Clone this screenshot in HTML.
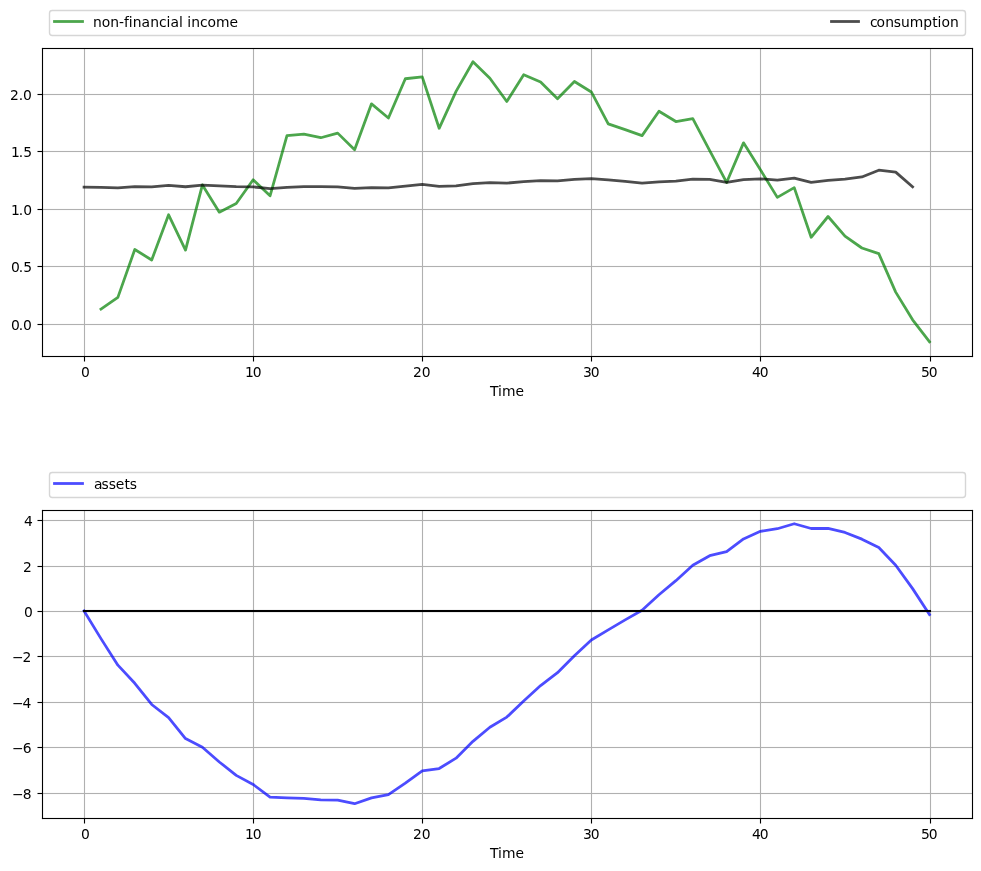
<!DOCTYPE html>
<html lang="en">
<head>
<meta charset="utf-8">
<title>Permanent income: income, consumption and assets</title>
<style>
html,body{margin:0;padding:0;background:#ffffff;}
body{width:981px;height:871px;overflow:hidden;}
svg{display:block;}
text{fill:#000000;}
</style>
</head>
<body>
<svg width="981" height="871" viewBox="0 0 981 871" font-family="'DejaVu Sans','Liberation Sans',sans-serif" font-size="13.889px">
<rect x="0" y="0" width="981" height="871" fill="#ffffff"/>
<defs>
<clipPath id="clip0"><rect x="41.787" y="47.722" width="930" height="308"/></clipPath>
<clipPath id="clip1"><rect x="41.787" y="509.722" width="930" height="308"/></clipPath>
</defs>
<g id="axes1">
<g id="grid1" fill="#b0b0b0">
<rect x="83.945" y="48.5" width="1.111" height="308"/>
<rect x="252.945" y="48.5" width="1.111" height="308"/>
<rect x="421.945" y="48.5" width="1.111" height="308"/>
<rect x="590.944" y="48.5" width="1.111" height="308"/>
<rect x="759.944" y="48.5" width="1.111" height="308"/>
<rect x="929.944" y="48.5" width="1.111" height="308"/>
<rect x="42.5" y="323.945" width="930" height="1.111"/>
<rect x="42.5" y="265.945" width="930" height="1.111"/>
<rect x="42.5" y="208.945" width="930" height="1.111"/>
<rect x="42.5" y="150.945" width="930" height="1.111"/>
<rect x="42.5" y="93.945" width="930" height="1.111"/>
</g>
<g id="lines1" clip-path="url(#clip0)" fill="none" stroke-width="2.778" stroke-linejoin="round">
<polyline id="income" stroke="#008000" stroke-opacity="0.7" stroke-linecap="square" points="100.97,309.18 117.88,297.38 134.79,249.48 151.70,259.98 168.61,214.78 185.51,250.08 202.42,184.93 219.33,212.18 236.24,203.48 253.15,179.78 270.06,195.78 286.97,135.58 303.88,134.13 320.79,137.73 337.70,133.13 354.61,149.78 371.51,103.85 388.42,118.00 405.33,78.75 422.24,76.85 439.15,128.30 456.06,91.35 472.97,61.72 489.88,78.25 506.79,101.50 523.70,74.70 540.61,82.05 557.51,98.70 574.42,81.45 591.33,91.95 608.24,123.90 625.15,129.65 642.06,135.65 658.97,111.30 675.88,121.55 692.79,118.65 709.70,150.55 726.61,182.45 743.51,142.85 760.42,169.75 777.33,197.40 794.24,187.65 811.15,237.30 828.06,216.50 844.97,236.10 861.88,248.00 878.79,253.60 895.70,292.10 912.61,319.80 929.51,341.72"/>
<polyline id="consumption" stroke="#000000" stroke-opacity="0.7" stroke-linecap="square" points="84.06,187.25 100.97,187.44 117.88,187.93 134.79,186.69 151.70,186.90 168.61,185.43 185.51,186.75 202.42,185.15 219.33,185.84 236.24,186.73 253.15,186.92 270.06,188.67 286.97,187.46 303.88,186.70 320.79,186.67 337.70,186.82 354.61,188.44 371.51,187.59 388.42,187.98 405.33,186.17 422.24,184.46 439.15,186.35 456.06,185.97 472.97,183.67 489.88,182.57 506.79,183.11 523.70,181.70 540.61,180.72 557.51,180.84 574.42,179.42 591.33,178.53 608.24,179.92 625.15,181.44 642.06,183.07 658.97,181.93 675.88,181.06 692.79,179.07 709.70,179.47 726.61,182.45 743.51,179.67 760.42,178.78 777.33,180.10 794.24,178.17 811.15,182.36 828.06,180.36 844.97,179.23 861.88,176.94 878.79,170.22 895.70,172.16 912.61,186.89"/>
</g>
<g id="ticks1" fill="#000000">
<rect x="83.945" y="356.5" width="1.111" height="5"/>
<rect x="252.945" y="356.5" width="1.111" height="5"/>
<rect x="421.945" y="356.5" width="1.111" height="5"/>
<rect x="590.944" y="356.5" width="1.111" height="5"/>
<rect x="759.944" y="356.5" width="1.111" height="5"/>
<rect x="929.944" y="356.5" width="1.111" height="5"/>
<rect x="37.5" y="323.945" width="5" height="1.111"/>
<rect x="37.5" y="265.945" width="5" height="1.111"/>
<rect x="37.5" y="208.945" width="5" height="1.111"/>
<rect x="37.5" y="150.945" width="5" height="1.111"/>
<rect x="37.5" y="93.945" width="5" height="1.111"/>
</g>
<g id="spines1" fill="#000000">
<rect x="41.944" y="47.944" width="1.111" height="309.111"/>
<rect x="971.944" y="47.944" width="1.111" height="309.111"/>
<rect x="41.944" y="355.945" width="931.111" height="1.111"/>
<rect x="41.944" y="47.944" width="931.111" height="1.111"/>
</g>
<g id="xlabels1" text-anchor="middle">
<text text-anchor="start" x="81" y="377">0</text>
<text text-anchor="start" x="245 252.75" y="377">10</text>
<text text-anchor="start" x="413 421.75" y="377">20</text>
<text text-anchor="start" x="583 590.75" y="377">30</text>
<text text-anchor="start" x="752 759.75" y="377">40</text>
<text text-anchor="start" x="921 928.75" y="377">50</text>
<text text-anchor="start" x="490 498 502 515.5" y="396">Time</text>
</g>
<g id="ylabels1" text-anchor="end">
<text text-anchor="start" x="11 18.75 23" y="330">0.0</text>
<text text-anchor="start" x="11 18.75 23.25" y="272">0.5</text>
<text text-anchor="start" x="11 18.75 23.25" y="215">1.0</text>
<text text-anchor="start" x="11 18.75 23.25" y="157">1.5</text>
<text text-anchor="start" x="10 18.75 23" y="100">2.0</text>
</g>
<g id="legend1">
<rect x="49.5" y="10.5" width="916" height="25" rx="2.778" ry="2.778" fill="#ffffff" fill-opacity="0.8" stroke="#cccccc" stroke-opacity="0.8" stroke-width="1.389"/>
<rect x="53.111" y="20.111" width="30.778" height="2.778" fill="#008000" fill-opacity="0.7"/>
<text text-anchor="start" x="93 101.75 110.25 119 124 128.75 132.75 141.5 150.25 159 166.5 170.5 179 182.75 187.25 191.25 200 207.5 216 229.5" y="27">non-financial income</text>
<rect x="830.111" y="20.111" width="29.778" height="2.778" fill="#000000" fill-opacity="0.7"/>
<text text-anchor="start" x="870 876.5 885.25 893.75 901 909.75 923.25 932.25 937.5 941.5 950" y="27">consumption</text>
</g>
</g>
<g id="axes2">
<g id="grid2" fill="#b0b0b0">
<rect x="83.945" y="510.5" width="1.111" height="308"/>
<rect x="252.945" y="510.5" width="1.111" height="308"/>
<rect x="421.945" y="510.5" width="1.111" height="308"/>
<rect x="590.944" y="510.5" width="1.111" height="308"/>
<rect x="759.944" y="510.5" width="1.111" height="308"/>
<rect x="929.944" y="510.5" width="1.111" height="308"/>
<rect x="42.5" y="792.944" width="930" height="1.111"/>
<rect x="42.5" y="746.944" width="930" height="1.111"/>
<rect x="42.5" y="701.944" width="930" height="1.111"/>
<rect x="42.5" y="655.944" width="930" height="1.111"/>
<rect x="42.5" y="610.944" width="930" height="1.111"/>
<rect x="42.5" y="565.944" width="930" height="1.111"/>
<rect x="42.5" y="519.944" width="930" height="1.111"/>
</g>
<g id="lines2" clip-path="url(#clip1)" fill="none" stroke-width="2.778" stroke-linejoin="round">
<polyline id="assets" stroke="#0000ff" stroke-opacity="0.7" stroke-linecap="square" points="84.06,610.99 100.97,638.63 117.88,665.13 134.79,683.26 151.70,704.48 168.61,717.63 185.51,738.57 202.42,747.27 219.33,761.97 236.24,775.40 253.15,784.49 270.06,797.03 286.97,797.80 303.88,798.43 320.79,799.80 337.70,800.20 354.61,803.72 371.51,797.89 388.42,794.58 405.33,783.14 422.24,770.96 439.15,768.52 456.06,758.14 472.97,741.33 489.88,727.25 506.79,717.12 523.70,700.95 540.61,685.55 557.51,672.72 574.42,655.67 591.33,639.98 608.24,629.84 625.15,619.91 642.06,610.23 658.97,594.78 675.88,580.66 692.79,565.30 709.70,555.71 726.61,551.72 743.51,538.97 760.42,531.30 777.33,528.74 794.24,523.72 811.15,528.49 828.06,528.42 844.97,532.46 861.88,539.14 878.79,547.56 895.70,565.19 912.61,588.63 929.51,614.53"/>
<rect id="zero" x="82.958" y="609.957" width="848.084" height="2.106" fill="#000000"/>
</g>
<g id="ticks2" fill="#000000">
<rect x="83.945" y="818.5" width="1.111" height="5"/>
<rect x="252.945" y="818.5" width="1.111" height="5"/>
<rect x="421.945" y="818.5" width="1.111" height="5"/>
<rect x="590.944" y="818.5" width="1.111" height="5"/>
<rect x="759.944" y="818.5" width="1.111" height="5"/>
<rect x="929.944" y="818.5" width="1.111" height="5"/>
<rect x="37.5" y="792.944" width="5" height="1.111"/>
<rect x="37.5" y="746.944" width="5" height="1.111"/>
<rect x="37.5" y="701.944" width="5" height="1.111"/>
<rect x="37.5" y="655.944" width="5" height="1.111"/>
<rect x="37.5" y="610.944" width="5" height="1.111"/>
<rect x="37.5" y="565.944" width="5" height="1.111"/>
<rect x="37.5" y="519.944" width="5" height="1.111"/>
</g>
<g id="spines2" fill="#000000">
<rect x="41.944" y="509.945" width="1.111" height="309.111"/>
<rect x="971.944" y="509.945" width="1.111" height="309.111"/>
<rect x="41.944" y="817.944" width="931.111" height="1.111"/>
<rect x="41.944" y="509.945" width="931.111" height="1.111"/>
</g>
<g id="xlabels2" text-anchor="middle">
<text text-anchor="start" x="81" y="839">0</text>
<text text-anchor="start" x="245 252.75" y="839">10</text>
<text text-anchor="start" x="413 421.75" y="839">20</text>
<text text-anchor="start" x="583 590.75" y="839">30</text>
<text text-anchor="start" x="752 759.75" y="839">40</text>
<text text-anchor="start" x="921 928.75" y="839">50</text>
<text text-anchor="start" x="490 498 502 515.5" y="858">Time</text>
</g>
<g id="ylabels2" text-anchor="end">
<text text-anchor="start" x="12 22.75" y="799">−8</text>
<text text-anchor="start" x="12 22.75" y="753">−6</text>
<text text-anchor="start" x="12 22.5" y="708">−4</text>
<text text-anchor="start" x="12 22.5" y="662">−2</text>
<text text-anchor="start" x="24" y="617">0</text>
<text text-anchor="start" x="23" y="572">2</text>
<text text-anchor="start" x="24" y="526">4</text>
</g>
<g id="legend2">
<rect x="49.5" y="472.5" width="916" height="25" rx="2.778" ry="2.778" fill="#ffffff" fill-opacity="0.8" stroke="#cccccc" stroke-opacity="0.8" stroke-width="1.389"/>
<rect x="53.111" y="482.111" width="30.778" height="2.778" fill="#0000ff" fill-opacity="0.7"/>
<text text-anchor="start" x="94 101.5 108.75 115.75 124.5 129.75" y="489">assets</text>
</g>
</g>
</svg>
</body>
</html>
